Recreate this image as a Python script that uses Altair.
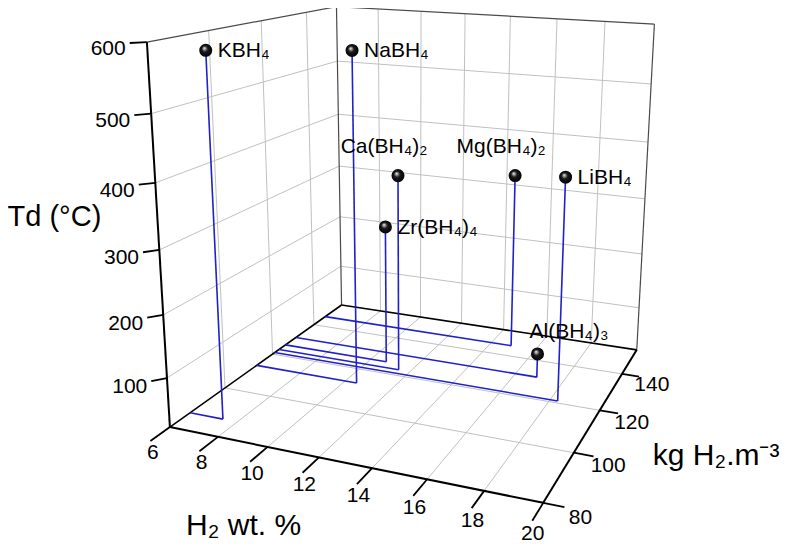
import math
import numpy as np
import pandas as pd
import altair as alt

# ---------------- data ----------------
compounds = ["LiBH₄", "NaBH₄", "KBH₄", "Mg(BH₄)₂", "Ca(BH₄)₂", "Al(BH₄)₃", "Zr(BH₄)₄"]
h2_wt = [18.3, 10.5, 7.4, 14.9, 11.5, 16.9, 10.7]      # H2 wt. %
h2_vol = [121, 113, 87, 146, 123, 131, 126]            # kg H2 / m3
td = [390, 570, 586, 335, 360, 62, 263]                # Td (°C)

x_ticks = [6, 8, 10, 12, 14, 16, 18, 20]
y_ticks = [80, 100, 120, 140]
z_ticks = [100, 200, 300, 400, 500, 600]
x_grid = [8, 10, 12, 14, 16, 18]
y_grid = [100, 120, 140]
z_grid = [100, 200, 300, 400, 500]
X_RANGE = (6, 20)
Y_RANGE = (80, 155)
Z_RANGE = (20, 600)

x_title = "H₂ wt. %"
y_title = "kg H₂.m⁻³"
z_title = "Td (°C)"

# ---------------- 3D view (camera) ----------------
W, H = 773, 536
BOX = (3.46, 3.306, 3.41)          # box aspect
AZIM, ELEV, ROLL = 19.9, 14.7, -0.96
CAM = np.array([5.696, -7.641, 4.631])
FOCAL = 1129.0
CENTER = (477.0, 180.0)
FONT = "Liberation Sans"


def rotation():
    az, el, ro = map(math.radians, (AZIM, ELEV, ROLL))
    w = np.array([-math.cos(el) * math.sin(az), math.cos(el) * math.cos(az), -math.sin(el)])
    r0 = np.array([math.cos(az), math.sin(az), 0.0])
    d0 = np.cross(w, r0)
    r = math.cos(ro) * r0 + math.sin(ro) * d0
    d = -math.sin(ro) * r0 + math.cos(ro) * d0
    return np.vstack([r, d, w])


R = rotation()


def proj(x, y, z):
    p = np.array([
        (x - X_RANGE[0]) / (X_RANGE[1] - X_RANGE[0]) * BOX[0],
        (y - Y_RANGE[0]) / (Y_RANGE[1] - Y_RANGE[0]) * BOX[1],
        (z - Z_RANGE[0]) / (Z_RANGE[1] - Z_RANGE[0]) * BOX[2],
    ])
    c = R @ (p - CAM)
    return CENTER[0] + FOCAL * c[0] / c[2], CENTER[1] + FOCAL * c[1] / c[2]


def seg(p, q):
    a = proj(*p)
    b = proj(*q)
    return {"x": a[0], "y": a[1], "x2": b[0], "y2": b[1]}


x0, x1 = X_RANGE
y0, y1 = Y_RANGE
z0, z1 = Z_RANGE
xs = x1 - x0
ys = y1 - y0
zs = z1 - z0

A, B, C, D = (x0, y0, z0), (x1, y0, z0), (x0, y1, z0), (x1, y1, z0)
E, G, Hc = (x0, y0, z1), (x0, y1, z1), (x1, y1, z1)

# grid lines on the two walls and the floor
grid = []
for xv in x_grid:
    grid.append(seg((xv, y1, z0), (xv, y1, z1)))
    grid.append(seg((xv, y0, z0), (xv, y1, z0)))
for yv in y_grid:
    grid.append(seg((x0, yv, z0), (x0, yv, z1)))
    grid.append(seg((x0, yv, z0), (x1, yv, z0)))
for zv in z_grid:
    grid.append(seg((x0, y1, zv), (x1, y1, zv)))
    grid.append(seg((x0, y0, zv), (x0, y1, zv)))
grid_df = pd.DataFrame(grid)

edges_df = pd.DataFrame([seg(C, G), seg(E, G), seg(G, Hc), seg(D, Hc)])
floor_edges_df = pd.DataFrame([seg(A, C), seg(C, D)])
axes_df = pd.DataFrame([seg(A, E), seg(A, B), seg(B, D)])

ticks = []
for xv in x_ticks:
    ticks.append(seg((xv, y0, z0), (xv, y0 - 0.085 * ys, z0)))
for yv in y_ticks:
    ticks.append(seg((x1, yv, z0), (x1 + 0.05 * xs, yv, z0)))
for zv in z_ticks:
    ticks.append(seg((x0, y0, zv), (x0 - 0.025 * xs, y0 - 0.032 * ys, zv)))
ticks_df = pd.DataFrame(ticks)

# tick labels
lab_rows = []
for xv in x_ticks:
    u, v = proj(xv, y0 - 0.078 * ys, z0 - 0.036 * zs)
    lab_rows.append({"x": u, "y": v, "t": str(xv), "ax": "x"})
for yv in y_ticks:
    u, v = proj(x1 + 0.088 * xs, yv, z0 - 0.02 * zs)
    lab_rows.append({"x": u, "y": v, "t": str(yv), "ax": "y"})
for zv in z_ticks:
    u, v = proj(x0 - 0.025 * xs, y0 - 0.032 * ys, zv)
    lab_rows.append({"x": u, "y": v, "t": str(zv), "ax": "z"})
labels_df = pd.DataFrame(lab_rows)

# data: points, drop lines
pts, drops = [], []
for name, xv, yv, zv in zip(compounds, h2_wt, h2_vol, td):
    u, v = proj(xv, yv, zv)
    pts.append({"compound": name, "x": u, "y": v})
    drops.append(seg((xv, yv, zv), (xv, yv, z0)))
    drops.append(seg((xv, yv, z0), (x0, yv, z0)))
pts_df = pd.DataFrame(pts)
drops_df = pd.DataFrame(drops)

# axis-title anchors
tu, tv = proj(x0, y0, 350)
xu, xv_ = proj(9, y0, z0)
yu, yv_ = proj(x1, 120, z0)
titles_df = pd.DataFrame([
    {"x": tu, "y": tv, "t": z_title, "k": "z"},
    {"x": xu, "y": xv_, "t": x_title, "k": "x"},
    {"x": yu, "y": yv_, "t": y_title, "k": "y"},
])

XS = alt.Scale(domain=[0, W], nice=False, zero=False)
YS = alt.Scale(domain=[0, H], nice=False, zero=False, reverse=True)


def rules(df, **mk):
    return alt.Chart(df).mark_rule(**mk).encode(
        x=alt.X("x:Q", scale=XS, axis=None),
        y=alt.Y("y:Q", scale=YS, axis=None),
        x2="x2:Q",
        y2="y2:Q",
    )


def texts(df, **mk):
    return alt.Chart(df).mark_text(font=FONT, **mk).encode(
        x=alt.X("x:Q", scale=XS, axis=None),
        y=alt.Y("y:Q", scale=YS, axis=None),
        text="t:N",
    )


grid_layer = rules(grid_df, color="#c0c0c0", strokeWidth=1)
edge_layer = rules(edges_df, color="#4a4a4a", strokeWidth=1.2)
floor_edge_layer = rules(floor_edges_df, color="#000000", strokeWidth=1.6)
axes_layer = rules(axes_df, color="#000000", strokeWidth=2)
tick_layer = rules(ticks_df, color="#000000", strokeWidth=1.8)
drop_layer = rules(drops_df, color="#2020cc", strokeWidth=1.6)

sphere_fill = alt.RadialGradient(
    gradient="radial",
    x1=0.38, y1=0.33, r1=0.0,
    x2=0.5, y2=0.5, r2=0.55,
    stops=[
        alt.GradientStop(color="#ffffff", offset=0.0),
        alt.GradientStop(color="#9a9a9a", offset=0.18),
        alt.GradientStop(color="#1a1a1a", offset=0.42),
        alt.GradientStop(color="#000000", offset=1.0),
    ],
)
spheres = alt.Chart(pts_df).mark_circle(size=170, fill=sphere_fill, opacity=1).encode(
    x=alt.X("x:Q", scale=XS, axis=None),
    y=alt.Y("y:Q", scale=YS, axis=None),
)

pt_text = pts_df.rename(columns={"compound": "t"})
right_names = ["LiBH₄", "NaBH₄", "KBH₄", "Zr(BH₄)₄"]
above_names = ["Mg(BH₄)₂", "Ca(BH₄)₂"]
lab_right = texts(pt_text, align="left", baseline="middle", dx=12, dy=1, fontSize=21).transform_filter(
    alt.FieldOneOfPredicate(field="t", oneOf=right_names))
lab_above = texts(pt_text, align="center", baseline="middle", dx=-14, dy=-29, fontSize=21).transform_filter(
    alt.FieldOneOfPredicate(field="t", oneOf=above_names))
lab_al = texts(pt_text, align="left", baseline="middle", dx=-8, dy=-22, fontSize=21).transform_filter(
    alt.FieldEqualPredicate(field="t", equal="Al(BH₄)₃"))

xlab = texts(labels_df, align="center", baseline="middle", fontSize=21).transform_filter(alt.datum.ax == "x")
ylab = texts(labels_df, align="center", baseline="middle", fontSize=21).transform_filter(alt.datum.ax == "y")
zlab = texts(labels_df, align="right", baseline="middle", dx=-4, dy=6, fontSize=21).transform_filter(alt.datum.ax == "z")

t_z = texts(titles_df, align="right", baseline="middle", dx=-56, dy=0, fontSize=29).transform_filter(alt.datum.k == "z")
t_x = texts(titles_df, align="center", baseline="middle", dx=1, dy=84, fontSize=30).transform_filter(alt.datum.k == "x")
t_y = texts(titles_df, align="left", baseline="middle", dx=53, dy=46, fontSize=30).transform_filter(alt.datum.k == "y")

chart = alt.layer(
    grid_layer, edge_layer, floor_edge_layer, drop_layer, axes_layer, tick_layer,
    spheres, lab_right, lab_above, lab_al, xlab, ylab, zlab, t_z, t_x, t_y,
).properties(
    width=W, height=H, autosize=alt.AutoSizeParams(type="none"), padding=0, background="white",
).configure_view(stroke=None)

chart.save("out.html", embed_options={"renderer": "svg", "actions": False})
